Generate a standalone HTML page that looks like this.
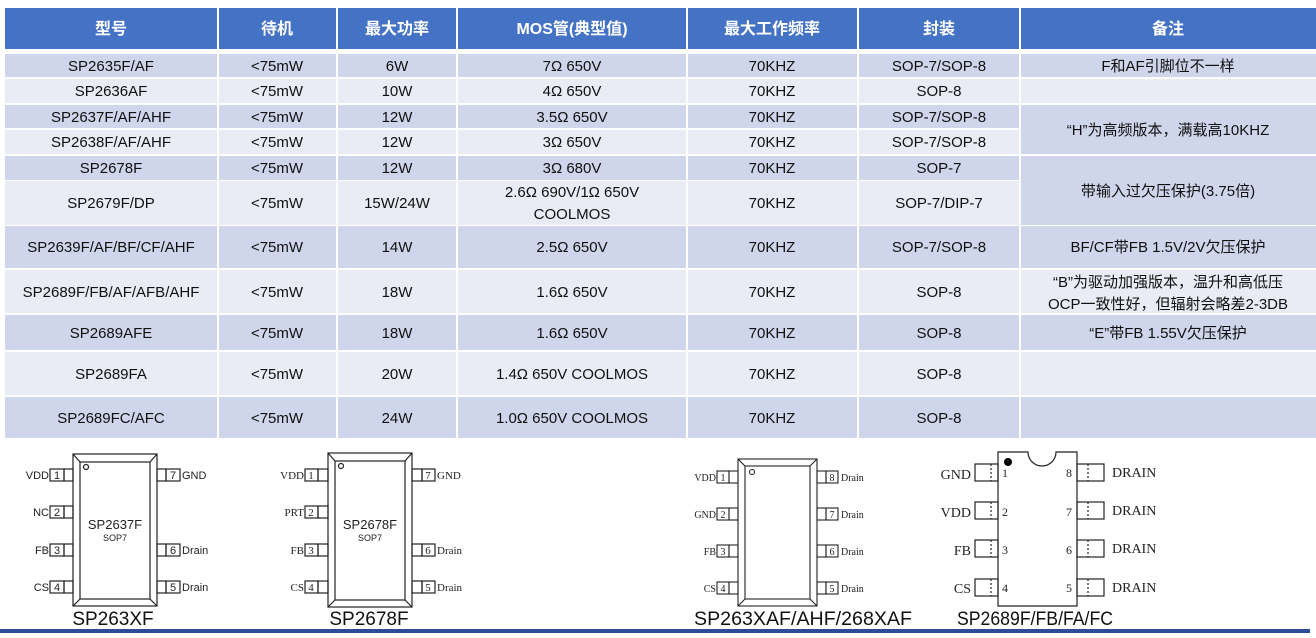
<!DOCTYPE html>
<html><head><meta charset="utf-8"><style>
html,body{margin:0;padding:0;background:#fff;width:1316px;height:638px;overflow:hidden}
svg{display:block}
.t{font-family:"Liberation Sans","Noto Sans CJK SC",sans-serif;font-size:15px;fill:#111;text-anchor:middle}
.h{font-family:"Liberation Sans","Noto Sans CJK SC",sans-serif;font-size:16px;font-weight:bold;fill:#fff;text-anchor:middle}
.p{font-family:"Liberation Serif",serif;font-size:11px;fill:#222}
.ps{font-family:"Liberation Sans",sans-serif;font-size:11px;fill:#222}
.e{text-anchor:end}.m{text-anchor:middle}
.ti{font-family:"Liberation Sans",sans-serif;font-size:19px;fill:#111;text-anchor:middle}
</style></head><body>
<svg width="1316" height="638" xmlns="http://www.w3.org/2000/svg">
<g fill="#4472C4">
<rect x="5" y="8" width="212" height="41"/><rect x="219" y="8" width="117" height="41"/><rect x="338" y="8" width="118" height="41"/><rect x="458" y="8" width="228" height="41"/><rect x="688" y="8" width="169" height="41"/><rect x="859" y="8" width="160" height="41"/><rect x="1021" y="8" width="295" height="41"/>
</g>
<text class="h" x="111" y="34">型号</text><text class="h" x="277" y="34">待机</text><text class="h" x="397" y="34">最大功率</text><text class="h" x="572" y="34">MOS管(典型值)</text><text class="h" x="772" y="34">最大工作频率</text><text class="h" x="939" y="34">封装</text><text class="h" x="1168" y="34">备注</text>
<g fill="#CFD5EA"><rect x="5" y="54" width="1014" height="23"/><rect x="5" y="105" width="1014" height="23"/><rect x="5" y="156" width="1014" height="24"/><rect x="5" y="226" width="1014" height="42"/><rect x="5" y="315" width="1014" height="35"/><rect x="5" y="397" width="1014" height="41"/>
<rect x="1021" y="54" width="295" height="23"/><rect x="1021" y="105" width="295" height="49"/><rect x="1021" y="156" width="295" height="69"/><rect x="1021" y="226" width="295" height="42"/><rect x="1021" y="315" width="295" height="35"/><rect x="1021" y="397" width="295" height="41"/></g>
<g fill="#E9EBF5"><rect x="5" y="79" width="1014" height="24"/><rect x="5" y="130" width="1014" height="24"/><rect x="5" y="181" width="1014" height="44"/><rect x="5" y="270" width="1014" height="43"/><rect x="5" y="352" width="1014" height="43"/>
<rect x="1021" y="79" width="295" height="24"/><rect x="1021" y="270" width="295" height="43"/><rect x="1021" y="352" width="295" height="43"/></g>
<g fill="#fff"><rect x="217" y="50" width="2" height="390"/><rect x="336" y="50" width="2" height="390"/><rect x="456" y="50" width="2" height="390"/><rect x="686" y="50" width="2" height="390"/><rect x="857" y="50" width="2" height="390"/><rect x="1019" y="50" width="2" height="390"/></g>
<text class="t" x="111" y="71">SP2635F/AF</text><text class="t" x="277" y="71">&lt;75mW</text><text class="t" x="397" y="71">6W</text><text class="t" x="572" y="71">7Ω 650V</text><text class="t" x="772" y="71">70KHZ</text><text class="t" x="939" y="71">SOP-7/SOP-8</text><text class="t" x="1168" y="71">F和AF引脚位不一样</text>
<text class="t" x="111" y="96">SP2636AF</text><text class="t" x="277" y="96">&lt;75mW</text><text class="t" x="397" y="96">10W</text><text class="t" x="572" y="96">4Ω  650V</text><text class="t" x="772" y="96">70KHZ</text><text class="t" x="939" y="96">SOP-8</text>
<text class="t" x="111" y="122">SP2637F/AF/AHF</text><text class="t" x="277" y="122">&lt;75mW</text><text class="t" x="397" y="122">12W</text><text class="t" x="572" y="122">3.5Ω 650V</text><text class="t" x="772" y="122">70KHZ</text><text class="t" x="939" y="122">SOP-7/SOP-8</text>
<text class="t" x="111" y="147">SP2638F/AF/AHF</text><text class="t" x="277" y="147">&lt;75mW</text><text class="t" x="397" y="147">12W</text><text class="t" x="572" y="147">3Ω 650V</text><text class="t" x="772" y="147">70KHZ</text><text class="t" x="939" y="147">SOP-7/SOP-8</text>
<text class="t" x="1168" y="135">“H”为高频版本，满载高10KHZ</text>
<text class="t" x="111" y="173">SP2678F</text><text class="t" x="277" y="173">&lt;75mW</text><text class="t" x="397" y="173">12W</text><text class="t" x="572" y="173">3Ω 680V</text><text class="t" x="772" y="173">70KHZ</text><text class="t" x="939" y="173">SOP-7</text>
<text class="t" x="1168" y="196">带输入过欠压保护(3.75倍)</text>
<text class="t" x="111" y="208">SP2679F/DP</text><text class="t" x="277" y="208">&lt;75mW</text><text class="t" x="397" y="208">15W/24W</text><text class="t" x="572" y="197">2.6Ω 690V/1Ω 650V</text><text class="t" x="572" y="219">COOLMOS</text><text class="t" x="772" y="208">70KHZ</text><text class="t" x="939" y="208">SOP-7/DIP-7</text>
<text class="t" x="111" y="252">SP2639F/AF/BF/CF/AHF</text><text class="t" x="277" y="252">&lt;75mW</text><text class="t" x="397" y="252">14W</text><text class="t" x="572" y="252">2.5Ω 650V</text><text class="t" x="772" y="252">70KHZ</text><text class="t" x="939" y="252">SOP-7/SOP-8</text><text class="t" x="1168" y="252">BF/CF带FB 1.5V/2V欠压保护</text>
<text class="t" x="111" y="297">SP2689F/FB/AF/AFB/AHF</text><text class="t" x="277" y="297">&lt;75mW</text><text class="t" x="397" y="297">18W</text><text class="t" x="572" y="297">1.6Ω  650V</text><text class="t" x="772" y="297">70KHZ</text><text class="t" x="939" y="297">SOP-8</text><text class="t" x="1168" y="287">“B”为驱动加强版本，温升和高低压</text><text class="t" x="1168" y="309">OCP一致性好，但辐射会略差2-3DB</text>
<text class="t" x="111" y="338">SP2689AFE</text><text class="t" x="277" y="338">&lt;75mW</text><text class="t" x="397" y="338">18W</text><text class="t" x="572" y="338">1.6Ω  650V</text><text class="t" x="772" y="338">70KHZ</text><text class="t" x="939" y="338">SOP-8</text><text class="t" x="1168" y="338">“E”带FB 1.55V欠压保护</text>
<text class="t" x="111" y="379">SP2689FA</text><text class="t" x="277" y="379">&lt;75mW</text><text class="t" x="397" y="379">20W</text><text class="t" x="572" y="379">1.4Ω 650V COOLMOS</text><text class="t" x="772" y="379">70KHZ</text><text class="t" x="939" y="379">SOP-8</text>
<text class="t" x="111" y="423">SP2689FC/AFC</text><text class="t" x="277" y="423">&lt;75mW</text><text class="t" x="397" y="423">24W</text><text class="t" x="572" y="423">1.0Ω 650V COOLMOS</text><text class="t" x="772" y="423">70KHZ</text><text class="t" x="939" y="423">SOP-8</text>

<!-- chip 1 -->
<g stroke="#222" fill="none" stroke-width="1.2">
<rect x="73" y="454" width="84" height="152"/><rect x="80" y="462" width="70" height="137"/>
<line x1="73" y1="454" x2="80" y2="462"/><line x1="157" y1="454" x2="150" y2="462"/><line x1="73" y1="606" x2="80" y2="599"/><line x1="157" y1="606" x2="150" y2="599"/>
<circle cx="86" cy="467" r="2.5"/>
<rect x="64" y="469" width="9" height="12"/><rect x="64" y="506" width="9" height="12"/><rect x="64" y="544" width="9" height="12"/><rect x="64" y="581" width="9" height="12"/>
<rect x="157" y="469" width="9" height="12"/><rect x="157" y="544" width="9" height="12"/><rect x="157" y="581" width="9" height="12"/>
<rect x="50" y="469" width="14" height="12"/><rect x="50" y="506" width="14" height="12"/><rect x="50" y="544" width="14" height="12"/><rect x="50" y="581" width="14" height="12"/>
<rect x="166" y="469" width="14" height="12"/><rect x="166" y="544" width="14" height="12"/><rect x="166" y="581" width="14" height="12"/>
</g>
<text class="ps e" x="49" y="479">VDD</text><text class="ps m" x="57" y="479">1</text><text class="ps e" x="49" y="516">NC</text><text class="ps m" x="57" y="516">2</text><text class="ps e" x="49" y="554">FB</text><text class="ps m" x="57" y="554">3</text><text class="ps e" x="49" y="591">CS</text><text class="ps m" x="57" y="591">4</text>
<text class="ps m" x="173" y="479">7</text><text class="ps" x="182" y="479">GND</text><text class="ps m" x="173" y="554">6</text><text class="ps" x="182" y="554">Drain</text><text class="ps m" x="173" y="591">5</text><text class="ps" x="182" y="591">Drain</text>
<text class="ps m" x="115" y="529" style="font-size:13px">SP2637F</text><text class="ps m" x="115" y="541" style="font-size:9px">SOP7</text>
<text class="ti" x="113" y="625">SP263XF</text>

<!-- chip 2 -->
<g stroke="#222" fill="none" stroke-width="1.2">
<rect x="328" y="453" width="84" height="154"/><rect x="335" y="461" width="70" height="139"/>
<line x1="328" y1="453" x2="335" y2="461"/><line x1="412" y1="453" x2="405" y2="461"/><line x1="328" y1="607" x2="335" y2="600"/><line x1="412" y1="607" x2="405" y2="600"/>
<circle cx="341" cy="466" r="2.5"/>
<rect x="318" y="469" width="10" height="12"/><rect x="318" y="506" width="10" height="12"/><rect x="318" y="544" width="10" height="12"/><rect x="318" y="581" width="10" height="12"/>
<rect x="412" y="469" width="10" height="12"/><rect x="412" y="544" width="10" height="12"/><rect x="412" y="581" width="10" height="12"/>
<rect x="305" y="469" width="13" height="12"/><rect x="305" y="506" width="13" height="12"/><rect x="305" y="544" width="13" height="12"/><rect x="305" y="581" width="13" height="12"/>
<rect x="422" y="469" width="13" height="12"/><rect x="422" y="544" width="13" height="12"/><rect x="422" y="581" width="13" height="12"/>
</g>
<text class="p e" x="304" y="479">VDD</text><text class="p m" x="311" y="479">1</text><text class="p e" x="304" y="516">PRT</text><text class="p m" x="311" y="516">2</text><text class="p e" x="304" y="554">FB</text><text class="p m" x="311" y="554">3</text><text class="p e" x="304" y="591">CS</text><text class="p m" x="311" y="591">4</text>
<text class="p m" x="428" y="479">7</text><text class="p" x="437" y="479">GND</text><text class="p m" x="428" y="554">6</text><text class="p" x="437" y="554">Drain</text><text class="p m" x="428" y="591">5</text><text class="p" x="437" y="591">Drain</text>
<text class="ps m" x="370" y="529" style="font-size:13px">SP2678F</text><text class="ps m" x="370" y="541" style="font-size:9px">SOP7</text>
<text class="ti" x="369" y="625">SP2678F</text>

<!-- chip 3 -->
<g stroke="#222" fill="none" stroke-width="1.1">
<rect x="738" y="459" width="79" height="147"/><rect x="745" y="466" width="65" height="133"/>
<line x1="738" y1="459" x2="745" y2="466"/><line x1="817" y1="459" x2="810" y2="466"/><line x1="738" y1="606" x2="745" y2="599"/><line x1="817" y1="606" x2="810" y2="599"/>
<circle cx="752" cy="472" r="2.5"/>
<rect x="729" y="471" width="9" height="12"/><rect x="729" y="508" width="9" height="12"/><rect x="729" y="545" width="9" height="12"/><rect x="729" y="582" width="9" height="12"/>
<rect x="717" y="471" width="12" height="12"/><rect x="717" y="508" width="12" height="12"/><rect x="717" y="545" width="12" height="12"/><rect x="717" y="582" width="12" height="12"/>
<rect x="817" y="471" width="9" height="12"/><rect x="817" y="508" width="9" height="12"/><rect x="817" y="545" width="9" height="12"/><rect x="817" y="582" width="9" height="12"/>
<rect x="826" y="471" width="12" height="12"/><rect x="826" y="508" width="12" height="12"/><rect x="826" y="545" width="12" height="12"/><rect x="826" y="582" width="12" height="12"/>
</g>
<g style="font-size:10px">
<text class="p e" style="font-size:10px" x="716" y="481">VDD</text><text class="p m" style="font-size:10px" x="723" y="481">1</text><text class="p e" style="font-size:10px" x="716" y="518">GND</text><text class="p m" style="font-size:10px" x="723" y="518">2</text><text class="p e" style="font-size:10px" x="716" y="555">FB</text><text class="p m" style="font-size:10px" x="723" y="555">3</text><text class="p e" style="font-size:10px" x="716" y="592">CS</text><text class="p m" style="font-size:10px" x="723" y="592">4</text>
<text class="p m" style="font-size:10px" x="832" y="481">8</text><text class="p" style="font-size:10px" x="841" y="481">Drain</text><text class="p m" style="font-size:10px" x="832" y="518">7</text><text class="p" style="font-size:10px" x="841" y="518">Drain</text><text class="p m" style="font-size:10px" x="832" y="555">6</text><text class="p" style="font-size:10px" x="841" y="555">Drain</text><text class="p m" style="font-size:10px" x="832" y="592">5</text><text class="p" style="font-size:10px" x="841" y="592">Drain</text></g>
<text class="ti" x="803" y="625" textLength="218" lengthAdjust="spacingAndGlyphs">SP263XAF/AHF/268XAF</text>

<!-- chip 4 -->
<g stroke="#222" fill="none" stroke-width="1.2">
<path d="M998 452 H1028 A14 14 0 0 0 1056 452 H1077 V606 H998 Z"/>
<rect x="975" y="464" width="23" height="17"/><rect x="975" y="502" width="23" height="17"/><rect x="975" y="540" width="23" height="17"/><rect x="975" y="579" width="23" height="17"/>
<rect x="1077" y="464" width="27" height="17"/><rect x="1077" y="502" width="27" height="17"/><rect x="1077" y="540" width="27" height="17"/><rect x="1077" y="579" width="27" height="17"/>
<g stroke-dasharray="2,2"><line x1="991" y1="464" x2="991" y2="481"/><line x1="991" y1="502" x2="991" y2="519"/><line x1="991" y1="540" x2="991" y2="557"/><line x1="991" y1="579" x2="991" y2="596"/>
<line x1="1088" y1="464" x2="1088" y2="481"/><line x1="1088" y1="502" x2="1088" y2="519"/><line x1="1088" y1="540" x2="1088" y2="557"/><line x1="1088" y1="579" x2="1088" y2="596"/></g>
</g>
<circle cx="1008" cy="462" r="4" fill="#000"/>
<text class="p e" style="font-size:14px" x="971" y="479">GND</text><text class="p e" style="font-size:14px" x="971" y="517">VDD</text><text class="p e" style="font-size:14px" x="971" y="555">FB</text><text class="p e" style="font-size:14px" x="971" y="593">CS</text>
<text class="p" style="font-size:12px" x="1002" y="477">1</text><text class="p" style="font-size:12px" x="1002" y="516">2</text><text class="p" style="font-size:12px" x="1002" y="554">3</text><text class="p" style="font-size:12px" x="1002" y="592">4</text>
<text class="p" style="font-size:12px" x="1066" y="477">8</text><text class="p" style="font-size:12px" x="1066" y="516">7</text><text class="p" style="font-size:12px" x="1066" y="554">6</text><text class="p" style="font-size:12px" x="1066" y="592">5</text>
<text class="p" style="font-size:14px" x="1112" y="477">DRAIN</text><text class="p" style="font-size:14px" x="1112" y="515">DRAIN</text><text class="p" style="font-size:14px" x="1112" y="553">DRAIN</text><text class="p" style="font-size:14px" x="1112" y="592">DRAIN</text>
<text class="ti" x="1035" y="625" textLength="156" lengthAdjust="spacingAndGlyphs">SP2689F/FB/FA/FC</text>

<rect x="0" y="629" width="1310" height="4" fill="#2E4A9A"/>
</svg>
</body></html>
